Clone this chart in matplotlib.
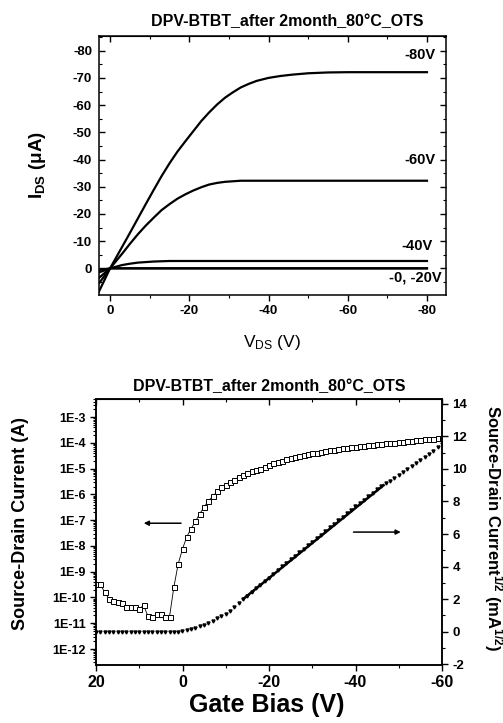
import numpy as np
import matplotlib
matplotlib.use('Agg')
import matplotlib.pyplot as plt
from matplotlib.ticker import LogLocator, NullFormatter, FixedLocator, FuncFormatter

plt.rcParams['font.family'] = ['Liberation Sans', 'DejaVu Sans']
plt.rcParams['axes.unicode_minus'] = False
plt.rcParams['mathtext.fontset'] = 'custom'
plt.rcParams['mathtext.rm'] = 'Liberation Sans'
plt.rcParams['mathtext.bf'] = 'Liberation Sans:bold'
plt.rcParams['mathtext.it'] = 'Liberation Sans:italic'

title = 'DPV-BTBT_after 2month_80°C_OTS'

# ---------------- output curves (top) ----------------
vds = [2.8, 0, -3, -5, -7, -9, -11, -13, -15, -17, -19, -21, -23, -25, -27, -29,
       -31, -33, -35, -37, -40, -43, -46, -50, -55, -60, -70, -80]
ids_m80 = [8.5, 0, -7.8, -13.0, -18.3, -23.6, -28.8, -33.9, -38.6, -42.9, -46.7, -50.4,
           -54.1, -57.3, -60.2, -62.7, -64.7, -66.5, -67.8, -68.9, -70.0, -70.7, -71.2,
           -71.7, -72.0, -72.1, -72.1, -72.1]
ids_m60 = [5.5, 0, -5.3, -9.0, -12.5, -15.7, -18.6, -21.4, -23.6, -25.6, -27.2, -28.6,
           -29.8, -30.8, -31.4, -31.8, -32.0, -32.2, -32.2, -32.2, -32.2, -32.2, -32.2,
           -32.2, -32.2, -32.2, -32.2, -32.2]
ids_m40 = [3.5, 0, -1.2, -1.7, -2.1, -2.3, -2.5, -2.6, -2.7, -2.7, -2.7, -2.7, -2.7,
           -2.7, -2.7, -2.7, -2.7, -2.7, -2.7, -2.7, -2.7, -2.7, -2.7, -2.7, -2.7,
           -2.7, -2.7, -2.7]
ids_m20 = [1.5, 0, 0, 0, 0, 0, 0, 0, 0, 0, 0, 0, 0, 0, 0, 0, 0, 0, 0, 0, 0, 0, 0, 0,
           0, 0, 0, 0]
ids_0 = [0.6, 0, 0, 0, 0, 0, 0, 0, 0, 0, 0, 0, 0, 0, 0, 0, 0, 0, 0, 0, 0, 0, 0, 0,
         0, 0, 0, 0]
curve_labels = ['-80V', '-60V', '-40V', '-0, -20V']

# ---------------- transfer curve (bottom) ----------------
vg = np.arange(20, -61, -1)
ids_log = [3.3e-10, 3.2e-10, 1.6e-10, 8.9e-11, 7.4e-11, 6.6e-11, 6.0e-11, 4.3e-11, 4.3e-11, 4.3e-11,
           3.5e-11, 5.0e-11, 1.9e-11, 1.7e-11, 2.2e-11, 2.2e-11, 1.7e-11, 1.8e-11, 2.5e-10, 2.0e-9,
           7.6e-9, 2.3e-8, 4.7e-8, 8.9e-8, 1.8e-7, 3.2e-7, 5.6e-7, 8.3e-7, 1.3e-6, 1.9e-6,
           2.3e-6, 3.0e-6, 3.7e-6, 4.7e-6, 5.8e-6, 6.8e-6, 7.8e-6, 8.9e-6, 1.0e-5, 1.17e-5,
           1.41e-5, 1.66e-5, 1.86e-5, 2.04e-5, 2.29e-5, 2.51e-5, 2.75e-5, 3.02e-5, 3.31e-5, 3.63e-5,
           3.89e-5, 4.17e-5, 4.57e-5, 4.90e-5, 5.13e-5, 5.50e-5, 5.75e-5, 6.17e-5, 6.46e-5, 6.76e-5,
           7.08e-5, 7.41e-5, 7.76e-5, 7.94e-5, 8.32e-5, 8.71e-5, 9.12e-5, 9.55e-5, 1.00e-4, 1.02e-4,
           1.07e-4, 1.12e-4, 1.17e-4, 1.20e-4, 1.26e-4, 1.32e-4, 1.35e-4, 1.38e-4, 1.45e-4, 1.48e-4,
           1.51e-4]
ids_sqrt = [-0.05, -0.05, -0.05, -0.05, -0.05, -0.05, -0.05, -0.05, -0.05, -0.05,
            -0.05, -0.05, -0.05, -0.05, -0.05, -0.05, -0.05, -0.05, -0.05, 0.0,
            0.07, 0.12, 0.18, 0.25, 0.34, 0.43, 0.53, 0.66, 0.82, 0.98,
            1.10, 1.27, 1.53, 1.78, 2.00, 2.22, 2.44, 2.66, 2.88, 3.10,
            3.32, 3.55, 3.78, 4.01, 4.23, 4.45, 4.66, 4.88, 5.10, 5.32,
            5.53, 5.75, 5.97, 6.19, 6.42, 6.64, 6.86, 7.07, 7.29, 7.50,
            7.70, 7.90, 8.12, 8.33, 8.54, 8.75, 8.95, 9.12, 9.29, 9.46,
            9.64, 9.83, 10.02, 10.20, 10.38, 10.55, 10.73, 10.92, 11.10, 11.32,
            11.55]
fit_vg = [-14, -46.5]
fit_sqrt = [2.0, 9.0]

W, H = 503, 723
fig = plt.figure(figsize=(W / 100, H / 100), dpi=100)

def fx(px):
    return px / W

def fy(py):
    return 1 - py / H

# ======== top axes ========
ax1 = fig.add_axes([fx(99), fy(295), fx(446) - fx(99), fy(36) - fy(295)])
lw = 1.6
for ids in [ids_m80, ids_m60, ids_m40, ids_m20, ids_0]:
    ax1.plot(vds, ids, color='black', lw=lw, solid_joinstyle='round')
ax1.set_xlim(2.8, -84.8)
ax1.set_ylim(9.8, -85.4)
ax1.xaxis.set_major_locator(FixedLocator([0, -20, -40, -60, -80]))
ax1.xaxis.set_minor_locator(FixedLocator([-10, -30, -50, -70]))
ax1.yaxis.set_major_locator(FixedLocator([0, -10, -20, -30, -40, -50, -60, -70, -80]))
ax1.yaxis.set_minor_locator(FixedLocator([5, -5, -15, -25, -35, -45, -55, -65, -75, -85]))
ax1.tick_params(axis='x', which='both', direction='out', top=False)
ax1.tick_params(axis='y', which='both', direction='in', left=True, right=True)
ax1.tick_params(which='major', length=4, width=1.0, labelsize=9.5)
ax1.tick_params(which='minor', length=2.5, width=0.8)
ax1.tick_params(axis='y', pad=5)
for lab in ax1.get_xticklabels() + ax1.get_yticklabels():
    lab.set_fontweight('bold')
sec1 = ax1.secondary_xaxis('top')
sec1.xaxis.set_major_locator(FixedLocator([0, -20, -40, -60, -80]))
sec1.xaxis.set_minor_locator(FixedLocator([-10, -30, -50, -70]))
sec1.tick_params(which='both', direction='in', labeltop=False)
sec1.tick_params(which='major', length=4, width=1.0)
sec1.tick_params(which='minor', length=2.5, width=0.8)
for sp in ax1.spines.values():
    sp.set_linewidth(1.1)

label_pos = [(-82.1, -78.4), (-82.1, -39.8), (-81.3, -8.2), (-83.8, 3.4)]
for txt, (x, y) in zip(curve_labels, label_pos):
    ax1.text(x, y, txt, ha='right', va='center', fontsize=10.5, fontweight='bold')

fig.text(fx(287), fy(22), title, ha='center', va='center', fontsize=11.5, fontweight='bold')
fig.text(fx(37), fy(165), r'$\mathbf{I_{DS}}$ $\mathbf{(\mu A)}$', rotation=90,
         ha='center', va='center', fontsize=13.5)
fig.text(fx(272), fy(343), r'$\mathregular{V_{DS}}$ (V)', ha='center', va='center', fontsize=12.5)

# ======== bottom axes ========
ax2 = fig.add_axes([fx(96), fy(665), fx(442) - fx(96), fy(399) - fy(665)])
ax2.plot(vg, ids_log, color='black', lw=0.6, marker='s', markersize=3.6,
         markerfacecolor='white', markeredgecolor='black', markeredgewidth=0.7)
ax2.set_yscale('log')
ax2.set_xlim(20, -60)
ax2.set_ylim(10 ** -12.62, 10 ** -2.3)
ax2.yaxis.set_major_locator(LogLocator(base=10, numticks=20))
ax2.yaxis.set_minor_locator(LogLocator(base=10, subs=np.arange(2, 10), numticks=20))
ax2.yaxis.set_minor_formatter(NullFormatter())
ax2.yaxis.set_major_formatter(FuncFormatter(lambda v, p: '1E%d' % int(round(np.log10(v)))))
ax2.xaxis.set_major_locator(FixedLocator([20, 0, -20, -40, -60]))
ax2.xaxis.set_minor_locator(FixedLocator([10, -10, -30, -50]))
ax2.tick_params(axis='x', which='both', direction='out', top=False, labelsize=11.5)
ax2.tick_params(axis='y', which='both', direction='out', labelsize=9)
ax2.tick_params(which='major', length=4, width=1.0)
ax2.tick_params(which='minor', length=2.5, width=0.8)
for lab in ax2.get_xticklabels() + ax2.get_yticklabels():
    lab.set_fontweight('bold')
sec2 = ax2.secondary_xaxis('top')
sec2.xaxis.set_major_locator(FixedLocator([20, 0, -20, -40, -60]))
sec2.xaxis.set_minor_locator(FixedLocator([10, -10, -30, -50]))
sec2.tick_params(which='both', direction='in', labeltop=False)
sec2.tick_params(which='major', length=4, width=1.0)
sec2.tick_params(which='minor', length=2.5, width=0.8)

ax2r = ax2.twinx()
ax2r.plot(vg, ids_sqrt, linestyle='none', marker='v', markersize=2.2, color='black')
ax2r.plot(fit_vg, fit_sqrt, color='black', lw=1.8)
ax2r.set_ylim(-2.05, 14.3)
ax2r.yaxis.set_major_locator(FixedLocator([-2, 0, 2, 4, 6, 8, 10, 12, 14]))
ax2r.yaxis.set_minor_locator(FixedLocator([-1, 1, 3, 5, 7, 9, 11, 13]))
ax2r.tick_params(axis='y', which='both', direction='out', labelsize=9.5)
ax2r.tick_params(which='major', length=4, width=1.0)
ax2r.tick_params(which='minor', length=2.5, width=0.8)
for lab in ax2r.get_yticklabels():
    lab.set_fontweight('bold')
for a in (ax2, ax2r):
    for sp in a.spines.values():
        sp.set_linewidth(1.1)

ax2.annotate('', xy=(9.6, 7.6e-8), xytext=(-0.3, 7.6e-8),
             arrowprops=dict(arrowstyle='-|>', color='black', lw=1.1, mutation_scale=7))
ax2r.annotate('', xy=(-51.1, 6.12), xytext=(-38.9, 6.12),
              arrowprops=dict(arrowstyle='-|>', color='black', lw=1.1, mutation_scale=7))

fig.text(fx(269), fy(387), title, ha='center', va='center', fontsize=11.5, fontweight='bold')
fig.text(fx(267), fy(705), 'Gate Bias (V)', ha='center', va='center', fontsize=18, fontweight='bold')
fig.text(fx(21), fy(523), 'Source-Drain Current (A)', rotation=90, ha='center', va='center',
         fontsize=13, fontweight='bold')
fig.text(fx(493), fy(528), r'Source-Drain Current$^{\mathbf{1/2}}$ (mA$^{\mathbf{1/2}}$)',
         rotation=-90, ha='center', va='center', fontsize=12, fontweight='bold')

fig.savefig('out.png', dpi=100)
